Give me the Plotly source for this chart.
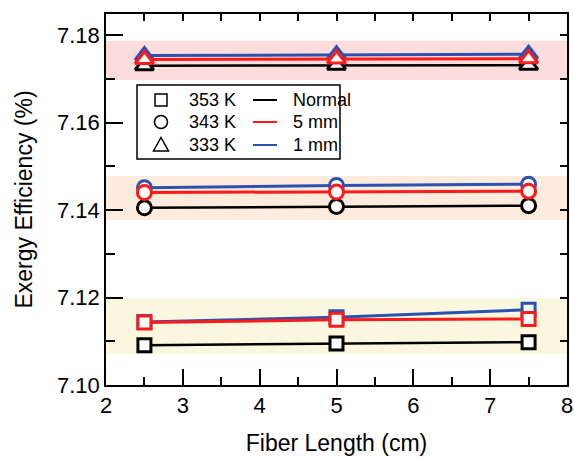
import plotly.graph_objects as go

# ---------------- data ----------------
fiber_length = [2.5, 5, 7.5]

# 353 K (squares)
k353_normal = [7.1091, 7.1095, 7.1098]
k353_5mm = [7.1143, 7.1149, 7.1151]
k353_1mm = [7.1144, 7.1155, 7.1172]

# 343 K (circles)
k343_normal = [7.1405, 7.1408, 7.1410]
k343_5mm = [7.1440, 7.1441, 7.1443]
k343_1mm = [7.1451, 7.1456, 7.1459]

# 333 K (triangles)
k333_normal = [7.1730, 7.1731, 7.1731]
k333_5mm = [7.1744, 7.1745, 7.1746]
k333_1mm = [7.1753, 7.1755, 7.1756]

# shaded bands (y ranges)
band_333 = [7.1697, 7.1787]
band_343 = [7.1377, 7.1478]
band_353 = [7.1071, 7.1199]

temp_labels = ["353 K", "343 K", "333 K"]
case_labels = ["Normal", "5 mm", "1 mm"]

# ---------------- style ----------------
FONT = "Liberation Sans, Arial, sans-serif"
BLACK = "#000000"
RED = "#FF1A1A"
BLUE = "#2B52AE"

W, H = 574, 458
ML, MR, MT, MB = 106, 7, 14, 73
PW, PH = W - ML - MR, H - MT - MB


def px_x(px):
    return (px - ML) / PW


def px_y(py):
    return (H - MB - py) / PH


fig = go.Figure()

groups = [
    ("square", 13, k353_normal, k353_5mm, k353_1mm),
    ("circle", 14, k343_normal, k343_5mm, k343_1mm),
    ("triangle-up", 16, k333_normal, k333_5mm, k333_1mm),
]

# draw black first, then blue, then red on top
for sym, sz, normal, five, one in groups:
    fig.add_trace(go.Scatter(
        x=fiber_length, y=normal, mode="lines+markers", showlegend=False,
        line=dict(color=BLACK, width=2.5),
        marker=dict(symbol=sym, size=sz, color="white", line=dict(color=BLACK, width=3)),
    ))
for sym, sz, normal, five, one in groups:
    fig.add_trace(go.Scatter(
        x=fiber_length, y=one, mode="lines+markers", showlegend=False,
        line=dict(color=BLUE, width=3),
        marker=dict(symbol=sym, size=sz, color="white", line=dict(color=BLUE, width=3)),
    ))
for sym, sz, normal, five, one in groups:
    fig.add_trace(go.Scatter(
        x=fiber_length, y=five, mode="lines+markers", showlegend=False,
        line=dict(color=RED, width=3),
        marker=dict(symbol=sym, size=sz, color="white", line=dict(color=RED, width=3)),
    ))

# dummy trace for the top/right tick axes
fig.add_trace(go.Scatter(x=[None], y=[None], xaxis="x2", yaxis="y2", showlegend=False))

# bands
for band, col in [(band_333, "#FDDCDC"), (band_343, "#FDEBDD"), (band_353, "#F9F8DE")]:
    fig.add_shape(type="rect", xref="x domain", yref="y", x0=0, x1=1,
                  y0=band[0], y1=band[1], fillcolor=col, line=dict(width=0), layer="below")

# ---------------- legend (custom two-column box) ----------------
fig.add_shape(type="rect", xref="paper", yref="paper",
              x0=px_x(137), x1=px_x(340), y0=px_y(159), y1=px_y(85),
              line=dict(color=BLACK, width=1.5), fillcolor="white", layer="above")

row_y = [100, 122, 145]
sym_x = 161
sym_paths = [
    "M -6,-6 L 6,-6 L 6,6 L -6,6 Z",
    None,
    "M -7.5,-6 L 7.5,-6 L 0,7.5 Z",
]
for i, (lab, case, col) in enumerate(zip(temp_labels, case_labels, [BLACK, RED, BLUE])):
    yy = px_y(row_y[i])
    if i == 1:
        fig.add_shape(type="circle", xref="paper", yref="paper",
                      xsizemode="pixel", ysizemode="pixel",
                      xanchor=px_x(sym_x), yanchor=yy, x0=-6.5, x1=6.5, y0=-6.5, y1=6.5,
                      line=dict(color=BLACK, width=1.5), layer="above")
    else:
        fig.add_shape(type="path", xref="paper", yref="paper",
                      xsizemode="pixel", ysizemode="pixel",
                      xanchor=px_x(sym_x), yanchor=yy, path=sym_paths[i],
                      line=dict(color=BLACK, width=1.5), layer="above")
    fig.add_annotation(x=px_x(187), y=yy, xref="paper", yref="paper", text=lab,
                       showarrow=False, xanchor="left", yanchor="middle",
                       font=dict(family=FONT, size=18, color=BLACK))
    fig.add_shape(type="line", xref="paper", yref="paper",
                  x0=px_x(253), x1=px_x(277), y0=yy, y1=yy,
                  line=dict(color=col, width=2), layer="above")
    fig.add_annotation(x=px_x(291), y=yy, xref="paper", yref="paper", text=case,
                       showarrow=False, xanchor="left", yanchor="middle",
                       font=dict(family=FONT, size=18, color=BLACK))

xr = [2, 8]
yr = [7.10, 7.1848]

axis_common = dict(
    showgrid=False, zeroline=False, color=BLACK, automargin=False,
    tickfont=dict(family=FONT, size=22, color=BLACK),
)

fig.update_layout(
    width=W, height=H,
    margin=dict(l=ML, r=MR, t=MT, b=MB),
    paper_bgcolor="white", plot_bgcolor="white",
    font=dict(family=FONT, color=BLACK),
    showlegend=False,
    xaxis=dict(
        range=xr, dtick=1, tick0=2, ticks="inside", ticklen=16, tickwidth=1.5,
        showline=True, linewidth=1.5, linecolor=BLACK, mirror=True,
        minor=dict(dtick=0.5, ticks="inside", ticklen=8, tickwidth=1.5, tickcolor=BLACK),
        title=dict(text="Fiber Length (cm)", font=dict(family=FONT, size=23), standoff=18),
        **axis_common,
    ),
    yaxis=dict(
        range=yr, dtick=0.02, tick0=7.10, tickformat=".2f", ticks="inside", ticklen=17, tickwidth=1.5,
        showline=True, linewidth=1.5, linecolor=BLACK, mirror=True,
        minor=dict(dtick=0.01, ticks="inside", ticklen=9, tickwidth=1.5, tickcolor=BLACK),
        title=dict(text="Exergy Efficiency (%)", font=dict(family=FONT, size=23), standoff=18),
        **axis_common,
    ),
    xaxis2=dict(
        overlaying="x", side="top", range=xr, dtick=1, tick0=2, ticks="inside", ticklen=7, tickwidth=1.5,
        tickcolor=BLACK, showticklabels=False, showgrid=False, zeroline=False, showline=False,
        automargin=False,
        minor=dict(dtick=0.5, ticks="inside", ticklen=7, tickwidth=1.5, tickcolor=BLACK),
    ),
    yaxis2=dict(
        overlaying="y", side="right", range=yr, dtick=0.02, tick0=7.10, ticks="inside", ticklen=7, tickwidth=1.5,
        tickcolor=BLACK, showticklabels=False, showgrid=False, zeroline=False, showline=False,
        automargin=False,
        minor=dict(dtick=0.01, ticks="inside", ticklen=7, tickwidth=1.5, tickcolor=BLACK),
    ),
)

fig.write_html(
    "out.html",
    config={"displayModeBar": False},
    post_script="document.body.style.margin='0';document.body.style.overflow='hidden';",
)
